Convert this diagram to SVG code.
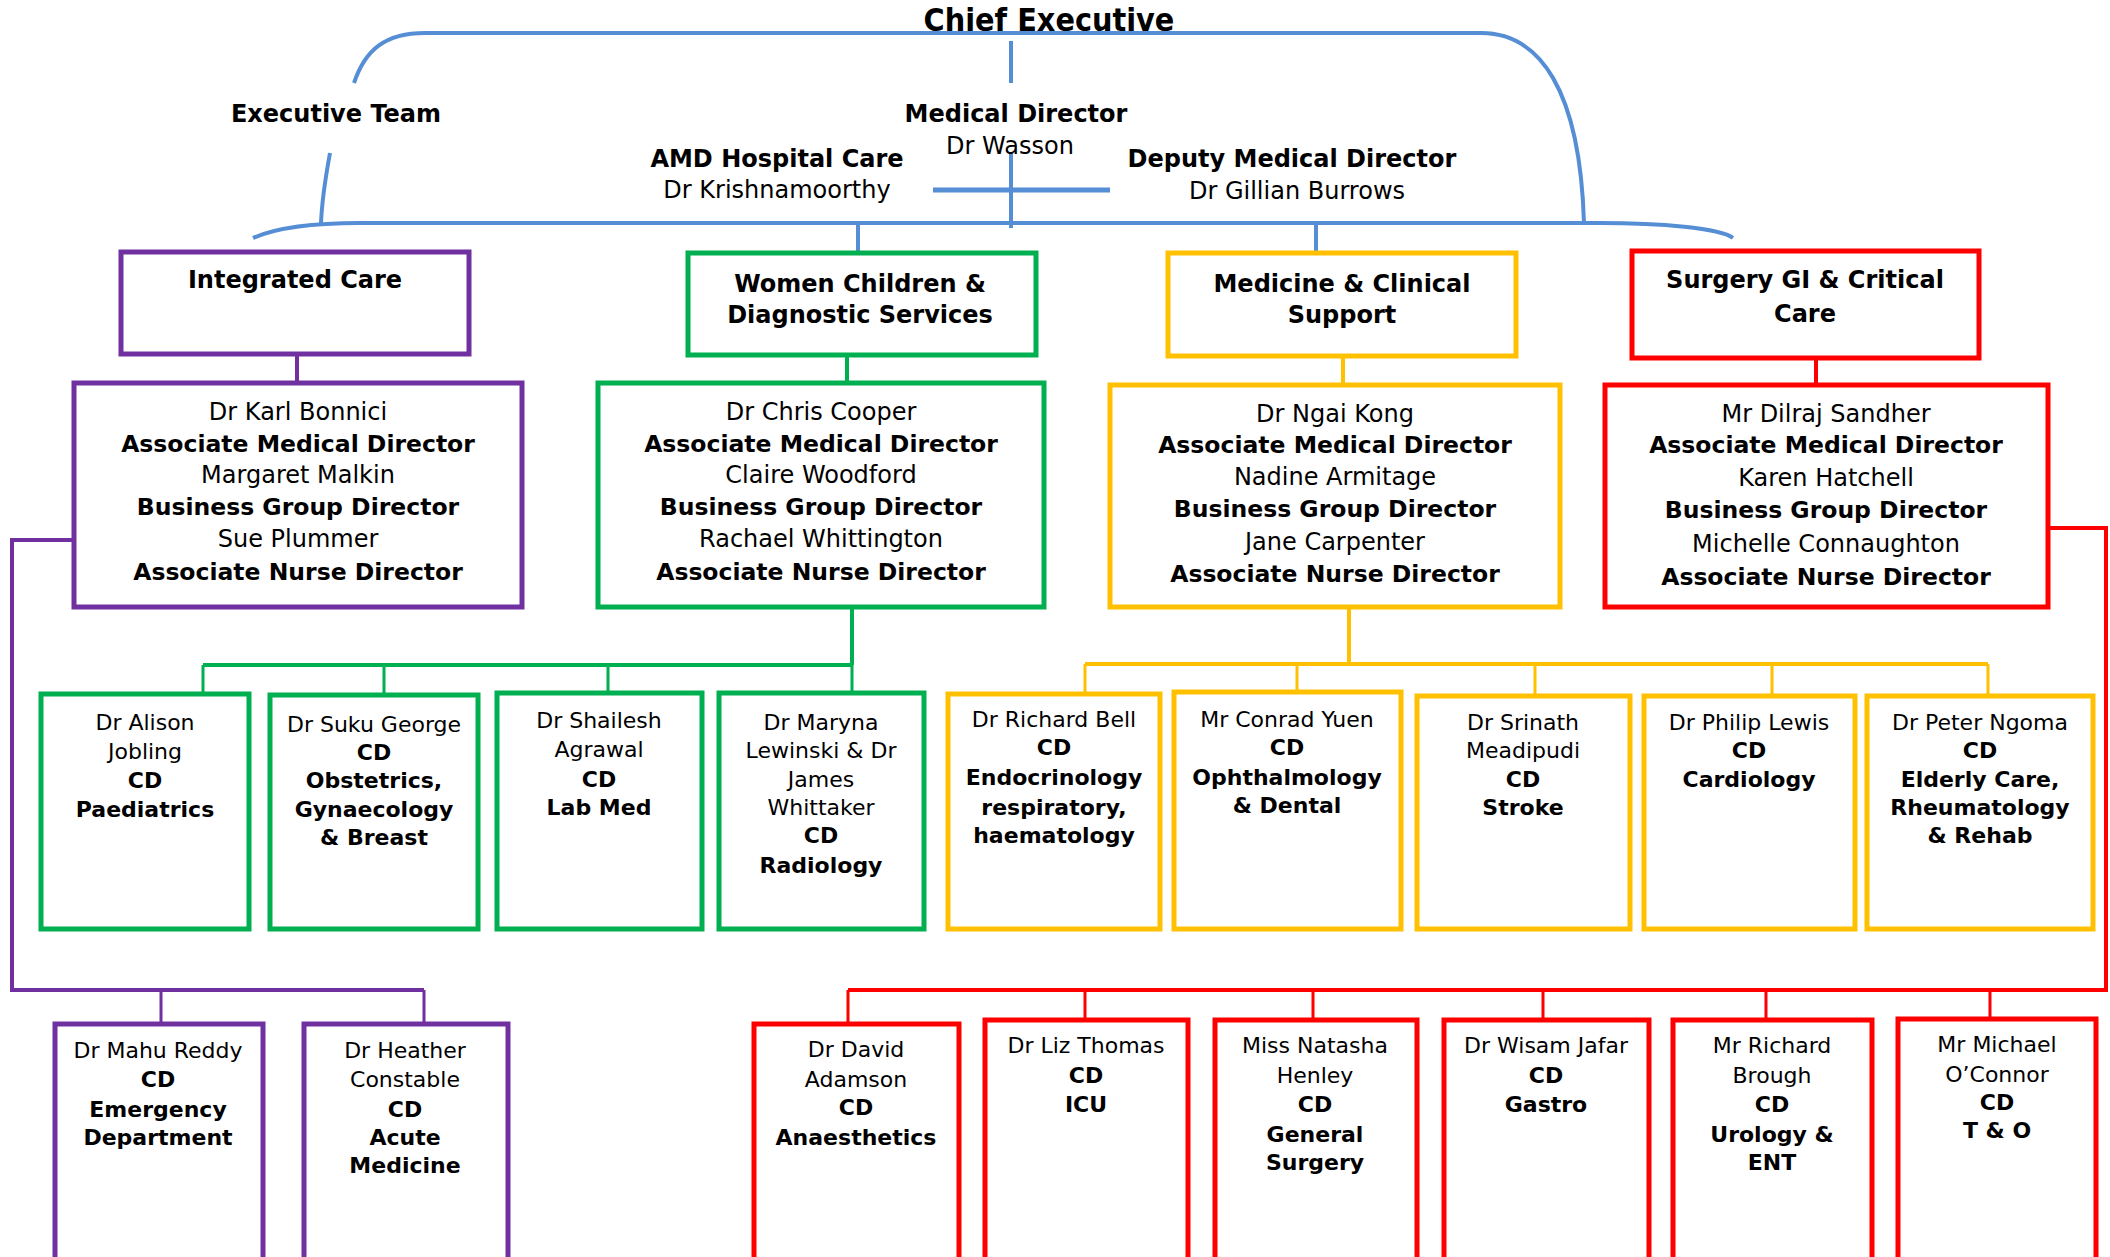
<svg xmlns="http://www.w3.org/2000/svg" width="2110" height="1257" viewBox="0 0 2110 1257">
<defs>
<style>
text{font-family:"DejaVu Sans",sans-serif;fill:#000;text-anchor:middle}
.b{font-weight:bold}
.t0{font-size:32px;font-family:"DejaVu Sans Condensed","DejaVu Sans",sans-serif}
.t1{font-size:24px}
.t2{font-size:24px}
.t2 .b{font-size:23.5px}
.t3{font-size:22px}
.box{fill:#fff;stroke-width:5}
.pu{stroke:#7030A0}.gr{stroke:#00B050}.ye{stroke:#FFC000}.re{stroke:#FF0000}
.ln{fill:none;stroke-width:4}
.th{fill:none;stroke-width:3}
.bl{stroke:#558ED5}
</style>
</defs>
<rect width="2110" height="1257" fill="#fff"/>

<!-- connectors -->
<g id="connectors">
  <g class="bl">
    <path class="ln" d="M354 83 C365 50 385 33 425 33 L1481 33 C1540 33 1580 90 1584 223"/>
    <path class="ln" d="M253 238 C280 226 320 223 360 223 L1600 223 C1660 223 1720 228 1733 238"/>
    <path class="ln" d="M330 153 C325 180 322 200 321 223"/>
    <path class="ln" d="M1011 41 V83 M1011 153 V228 M858 223 V253 M1316 223 V253"/>
    <path fill="none" stroke-width="5" d="M933 190 H1110"/>
  </g>
  <g class="pu">
    <path class="ln" d="M297 355 V381"/>
    <path class="ln" d="M72 540 H12 V990 H424"/>
    <path class="th" d="M161 990 V1022 M424 990 V1022"/>
  </g>
  <g class="gr">
    <path class="ln" d="M847 356 V381"/>
    <path class="ln" d="M852 608 V665 M203 665 H852"/>
    <path class="th" d="M203 665 V692 M384 665 V693 M608 665 V691 M852 665 V691"/>
  </g>
  <g class="ye">
    <path class="ln" d="M1343 358 V383"/>
    <path class="ln" d="M1349 608 V664 M1085 664 H1988"/>
    <path class="th" d="M1085 664 V692 M1297 664 V690 M1535 664 V694 M1772 664 V694 M1988 664 V694"/>
  </g>
  <g class="re">
    <path class="ln" d="M1816 360 V383"/>
    <path class="ln" d="M2049 528 H2106 V990 H848"/>
    <path class="th" d="M848 990 V1022 M1085 990 V1018 M1313 990 V1018 M1543 990 V1018 M1766 990 V1018 M1990 990 V1017"/>
  </g>
</g>

<!-- executive level labels -->
<g id="chief-executive"><text class="b t0" x="1049" y="31">Chief Executive</text></g>
<g id="executive-team"><text class="b t1" x="336" y="122">Executive Team</text></g>
<g id="medical-director">
  <text class="b t1" x="1016" y="122">Medical Director</text>
  <text class="t1" x="1010" y="154">Dr Wasson</text>
</g>
<g id="amd-hospital-care">
  <text class="b t1" x="777" y="167">AMD Hospital Care</text>
  <text class="t1" x="777" y="198">Dr Krishnamoorthy</text>
</g>
<g id="deputy-medical-director">
  <text class="b t1" x="1292" y="167">Deputy Medical Director</text>
  <text class="t1" x="1297" y="199">Dr Gillian Burrows</text>
</g>

<!-- business groups -->
<g id="integrated-care">
  <rect class="box pu" x="121" y="252" width="348" height="102"/>
  <text class="b t1" x="295" y="288">Integrated Care</text>
</g>
<g id="women-children">
  <rect class="box gr" x="688" y="253" width="348" height="102"/>
  <text class="b t1" x="860" y="292">Women Children &amp;</text>
  <text class="b t1" x="860" y="323">Diagnostic Services</text>
</g>
<g id="medicine-clinical">
  <rect class="box ye" x="1168" y="253" width="348" height="103"/>
  <text class="b t1" x="1342" y="292">Medicine &amp; Clinical</text>
  <text class="b t1" x="1342" y="323">Support</text>
</g>
<g id="surgery-gi">
  <rect class="box re" x="1632" y="251" width="347" height="107"/>
  <text class="b t1" x="1805" y="288">Surgery GI &amp; Critical</text>
  <text class="b t1" x="1805" y="322">Care</text>
</g>

<!-- group leadership -->
<g id="integrated-care-leads" class="t2">
  <rect class="box pu" x="74" y="383" width="448" height="224"/>
  <text x="298" y="420">Dr Karl Bonnici</text>
  <text class="b" x="298" y="452">Associate Medical Director</text>
  <text x="298" y="483">Margaret Malkin</text>
  <text class="b" x="298" y="515">Business Group Director</text>
  <text x="298" y="547">Sue Plummer</text>
  <text class="b" x="298" y="580">Associate Nurse Director</text>
</g>
<g id="women-children-leads" class="t2">
  <rect class="box gr" x="598" y="383" width="446" height="224"/>
  <text x="821" y="420">Dr Chris Cooper</text>
  <text class="b" x="821" y="452">Associate Medical Director</text>
  <text x="821" y="483">Claire Woodford</text>
  <text class="b" x="821" y="515">Business Group Director</text>
  <text x="821" y="547">Rachael Whittington</text>
  <text class="b" x="821" y="580">Associate Nurse Director</text>
</g>
<g id="medicine-clinical-leads" class="t2">
  <rect class="box ye" x="1110" y="385" width="450" height="222"/>
  <text x="1335" y="422">Dr Ngai Kong</text>
  <text class="b" x="1335" y="453">Associate Medical Director</text>
  <text x="1335" y="485">Nadine Armitage</text>
  <text class="b" x="1335" y="517">Business Group Director</text>
  <text x="1335" y="550">Jane Carpenter</text>
  <text class="b" x="1335" y="582">Associate Nurse Director</text>
</g>
<g id="surgery-gi-leads" class="t2">
  <rect class="box re" x="1605" y="385" width="443" height="222"/>
  <text x="1826" y="422">Mr Dilraj Sandher</text>
  <text class="b" x="1826" y="453">Associate Medical Director</text>
  <text x="1826" y="486">Karen Hatchell</text>
  <text class="b" x="1826" y="518">Business Group Director</text>
  <text x="1826" y="552">Michelle Connaughton</text>
  <text class="b" x="1826" y="585">Associate Nurse Director</text>
</g>

<!-- clinical directors: women children & diagnostic -->
<g id="cd-paediatrics" class="t3">
  <rect class="box gr" x="41" y="694" width="208" height="235"/>
  <text x="145" y="730">Dr Alison</text>
  <text x="145" y="759">Jobling</text>
  <text class="b" x="145" y="788">CD</text>
  <text class="b" x="145" y="817">Paediatrics</text>
</g>
<g id="cd-obstetrics" class="t3">
  <rect class="box gr" x="270" y="695" width="208" height="234"/>
  <text x="374" y="732">Dr Suku George</text>
  <text class="b" x="374" y="760">CD</text>
  <text class="b" x="374" y="788">Obstetrics,</text>
  <text class="b" x="374" y="817">Gynaecology</text>
  <text class="b" x="374" y="845">&amp; Breast</text>
</g>
<g id="cd-lab-med" class="t3">
  <rect class="box gr" x="497" y="693" width="205" height="236"/>
  <text x="599" y="728">Dr Shailesh</text>
  <text x="599" y="757">Agrawal</text>
  <text class="b" x="599" y="787">CD</text>
  <text class="b" x="599" y="815">Lab Med</text>
</g>
<g id="cd-radiology" class="t3">
  <rect class="box gr" x="719" y="693" width="205" height="236"/>
  <text x="821" y="730">Dr Maryna</text>
  <text x="821" y="758">Lewinski &amp; Dr</text>
  <text x="821" y="787">James</text>
  <text x="821" y="815">Whittaker</text>
  <text class="b" x="821" y="843">CD</text>
  <text class="b" x="821" y="873">Radiology</text>
</g>

<!-- clinical directors: medicine & clinical support -->
<g id="cd-endocrinology" class="t3">
  <rect class="box ye" x="948" y="694" width="212" height="235"/>
  <text x="1054" y="727">Dr Richard Bell</text>
  <text class="b" x="1054" y="755">CD</text>
  <text class="b" x="1054" y="785">Endocrinology</text>
  <text class="b" x="1054" y="815">respiratory,</text>
  <text class="b" x="1054" y="843">haematology</text>
</g>
<g id="cd-ophthalmology" class="t3">
  <rect class="box ye" x="1174" y="692" width="227" height="237"/>
  <text x="1287" y="727">Mr Conrad Yuen</text>
  <text class="b" x="1287" y="755">CD</text>
  <text class="b" x="1287" y="785">Ophthalmology</text>
  <text class="b" x="1287" y="813">&amp; Dental</text>
</g>
<g id="cd-stroke" class="t3">
  <rect class="box ye" x="1417" y="696" width="213" height="233"/>
  <text x="1523" y="730">Dr Srinath</text>
  <text x="1523" y="758">Meadipudi</text>
  <text class="b" x="1523" y="787">CD</text>
  <text class="b" x="1523" y="815">Stroke</text>
</g>
<g id="cd-cardiology" class="t3">
  <rect class="box ye" x="1644" y="696" width="211" height="233"/>
  <text x="1749" y="730">Dr Philip Lewis</text>
  <text class="b" x="1749" y="758">CD</text>
  <text class="b" x="1749" y="787">Cardiology</text>
</g>
<g id="cd-elderly-care" class="t3">
  <rect class="box ye" x="1867" y="696" width="226" height="233"/>
  <text x="1980" y="730">Dr Peter Ngoma</text>
  <text class="b" x="1980" y="758">CD</text>
  <text class="b" x="1980" y="787">Elderly Care,</text>
  <text class="b" x="1980" y="815">Rheumatology</text>
  <text class="b" x="1980" y="843">&amp; Rehab</text>
</g>

<!-- clinical directors: integrated care -->
<g id="cd-emergency" class="t3">
  <rect class="box pu" x="55" y="1024" width="208" height="260"/>
  <text x="158" y="1058">Dr Mahu Reddy</text>
  <text class="b" x="158" y="1087">CD</text>
  <text class="b" x="158" y="1117">Emergency</text>
  <text class="b" x="158" y="1145">Department</text>
</g>
<g id="cd-acute-medicine" class="t3">
  <rect class="box pu" x="304" y="1024" width="204" height="260"/>
  <text x="405" y="1058">Dr Heather</text>
  <text x="405" y="1087">Constable</text>
  <text class="b" x="405" y="1117">CD</text>
  <text class="b" x="405" y="1145">Acute</text>
  <text class="b" x="405" y="1173">Medicine</text>
</g>

<!-- clinical directors: surgery gi & critical care -->
<g id="cd-anaesthetics" class="t3">
  <rect class="box re" x="754" y="1024" width="205" height="260"/>
  <text x="856" y="1057">Dr David</text>
  <text x="856" y="1087">Adamson</text>
  <text class="b" x="856" y="1115">CD</text>
  <text class="b" x="856" y="1145">Anaesthetics</text>
</g>
<g id="cd-icu" class="t3">
  <rect class="box re" x="985" y="1020" width="203" height="264"/>
  <text x="1086" y="1053">Dr Liz Thomas</text>
  <text class="b" x="1086" y="1083">CD</text>
  <text class="b" x="1086" y="1112">ICU</text>
</g>
<g id="cd-general-surgery" class="t3">
  <rect class="box re" x="1215" y="1020" width="202" height="264"/>
  <text x="1315" y="1053">Miss Natasha</text>
  <text x="1315" y="1083">Henley</text>
  <text class="b" x="1315" y="1112">CD</text>
  <text class="b" x="1315" y="1142">General</text>
  <text class="b" x="1315" y="1170">Surgery</text>
</g>
<g id="cd-gastro" class="t3">
  <rect class="box re" x="1444" y="1020" width="205" height="264"/>
  <text x="1546" y="1053">Dr Wisam Jafar</text>
  <text class="b" x="1546" y="1083">CD</text>
  <text class="b" x="1546" y="1112">Gastro</text>
</g>
<g id="cd-urology" class="t3">
  <rect class="box re" x="1673" y="1020" width="199" height="264"/>
  <text x="1772" y="1053">Mr Richard</text>
  <text x="1772" y="1083">Brough</text>
  <text class="b" x="1772" y="1112">CD</text>
  <text class="b" x="1772" y="1142">Urology &amp;</text>
  <text class="b" x="1772" y="1170">ENT</text>
</g>
<g id="cd-t-and-o" class="t3">
  <rect class="box re" x="1898" y="1019" width="198" height="265"/>
  <text x="1997" y="1052">Mr Michael</text>
  <text x="1997" y="1082">O’Connor</text>
  <text class="b" x="1997" y="1110">CD</text>
  <text class="b" x="1997" y="1138">T &amp; O</text>
</g>
</svg>
